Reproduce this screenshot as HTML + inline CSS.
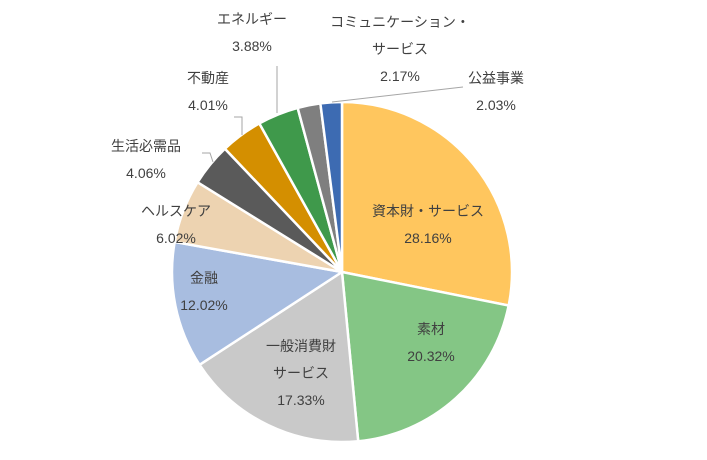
<!DOCTYPE html>
<html><head><meta charset="utf-8"><style>
body{margin:0;background:#fff;width:707px;height:455px;overflow:hidden}
svg text{font-family:"Liberation Sans","Noto Sans CJK JP",sans-serif;font-size:14px;fill:#404040;text-anchor:middle}
</style></head><body>
<svg id="chart" width="707" height="455" viewBox="0 0 707 455">
<g id="slices"></g>
<g id="lines" stroke="#a6a6a6" fill="none" stroke-width="1">
<polyline points="277,66 277,113"/>
<polyline points="234,117 242,117 242,135"/>
<polyline points="202,153 210,153 213,162"/>
<polyline points="463,87 332,102"/>
</g>
<g id="labels"></g>
</svg>
<script>
const categories=["資本財・サービス","素材","一般消費財サービス","金融","ヘルスケア","生活必需品","不動産","エネルギー","コミュニケーション・サービス","公益事業"];
const values=[28.16,20.32,17.33,12.02,6.02,4.06,4.01,3.88,2.17,2.03];
const colors=["#ffc65e","#84c685","#c9c9c9","#a8bde0","#edd3b1","#5a5a5a","#d48f00","#3f994b","#7f7f7f","#3d6bb2"];
const labelLines=[["資本財・サービス","28.16%"],["素材","20.32%"],["一般消費財","サービス","17.33%"],["金融","12.02%"],["ヘルスケア","6.02%"],["生活必需品","4.06%"],["不動産","4.01%"],["エネルギー","3.88%"],["コミュニケーション・","サービス","2.17%"],["公益事業","2.03%"]];
const labelPos=[[428,216],[431,334],[301,351],[204,283],[176,216],[146,151],[208,83],[252,24],[400,27],[496,83]];
const cx=342,cy=272,r=170;
const NS="http://www.w3.org/2000/svg";
const total=values.reduce((a,b)=>a+b,0);
let a0=0;
const sg=document.getElementById('slices'),lg=document.getElementById('labels');
function pt(a){return [cx+r*Math.sin(a),cy-r*Math.cos(a)];}
values.forEach((v,i)=>{
 const a1=a0+v/total*2*Math.PI;
 const p0=pt(a0),p1=pt(a1);
 const large=(a1-a0)>Math.PI?1:0;
 const p=document.createElementNS(NS,'path');
 p.setAttribute('d',`M${cx},${cy} L${p0[0]},${p0[1]} A${r},${r} 0 ${large} 1 ${p1[0]},${p1[1]} Z`);
 p.setAttribute('fill',colors[i]);p.setAttribute('stroke','#fff');p.setAttribute('stroke-width','2.5');
 
 
 sg.appendChild(p);
 a0=a1;
 const t=document.createElementNS(NS,'text');
 
 
 labelLines[i].forEach((s,j)=>{const ts=document.createElementNS(NS,'tspan');ts.setAttribute('x',labelPos[i][0]);ts.setAttribute('y',labelPos[i][1]+j*27);ts.textContent=s;t.appendChild(ts);});
 lg.appendChild(t);
});
</script>
</body></html>
